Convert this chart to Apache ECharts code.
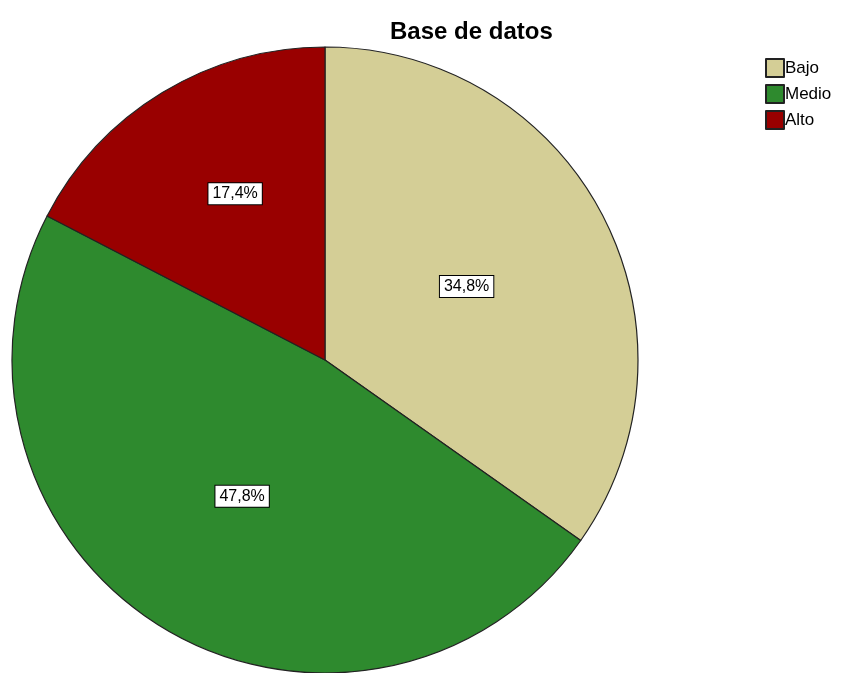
<!DOCTYPE html>
<html>
<head>
<meta charset="utf-8">
<script src="https://cdn.jsdelivr.net/npm/echarts@6/dist/echarts.min.js"></script>
<style>html,body{margin:0;padding:0;background:#fff}#c{width:843px;height:673px}</style>
</head>
<body>
<div id="c"></div>
<script>
const categories = ["Bajo", "Medio", "Alto"];
const counts = [8, 11, 4];
const colors = ["#D4CE96", "#2E8A2E", "#990000"];
const titleText = "Base de datos";

const total = counts.reduce((a, b) => a + b, 0);
const chart = echarts.init(document.getElementById('c'));
chart.setOption({
  animation: false,
  backgroundColor: '#fff',
  title: {
    text: titleText,
    left: 385, top: 15,
    textStyle: { fontFamily: 'Liberation Sans, Arial', fontSize: 24, fontWeight: 'bold', color: '#000' }
  },
  legend: {
    orient: 'vertical', left: 760, top: 53,
    icon: 'rect', itemWidth: 18, itemHeight: 18, itemGap: 6,
    textStyle: { fontFamily: 'Liberation Sans, Arial', fontSize: 17, color: '#000', padding: [0, 0, 0, -4] },
    data: categories
  },
  series: [{
    type: 'pie',
    center: [325, 360],
    radius: 313,
    startAngle: 90,
    clockwise: true,
    avoidLabelOverlap: false,
    itemStyle: { borderColor: '#222', borderWidth: 1.2 },
    label: {
      position: 'inside',
      formatter: p => (p.value / total * 100).toFixed(1).replace('.', ',') + '%',
      fontFamily: 'Liberation Sans, Arial', fontSize: 16, color: '#000',
      backgroundColor: '#fff', borderColor: '#000', borderWidth: 1,
      padding: [3, 4, 2, 4]
    },
    labelLayout: p => (p.dataIndex === 2 ? { dx: -7, dy: -30 } : {}),
    labelLine: { show: false },
    emphasis: { disabled: true },
    data: categories.map((c, i) => ({ name: c, value: counts[i], itemStyle: { color: colors[i] } }))
  }]
});
</script>
</body>
</html>
